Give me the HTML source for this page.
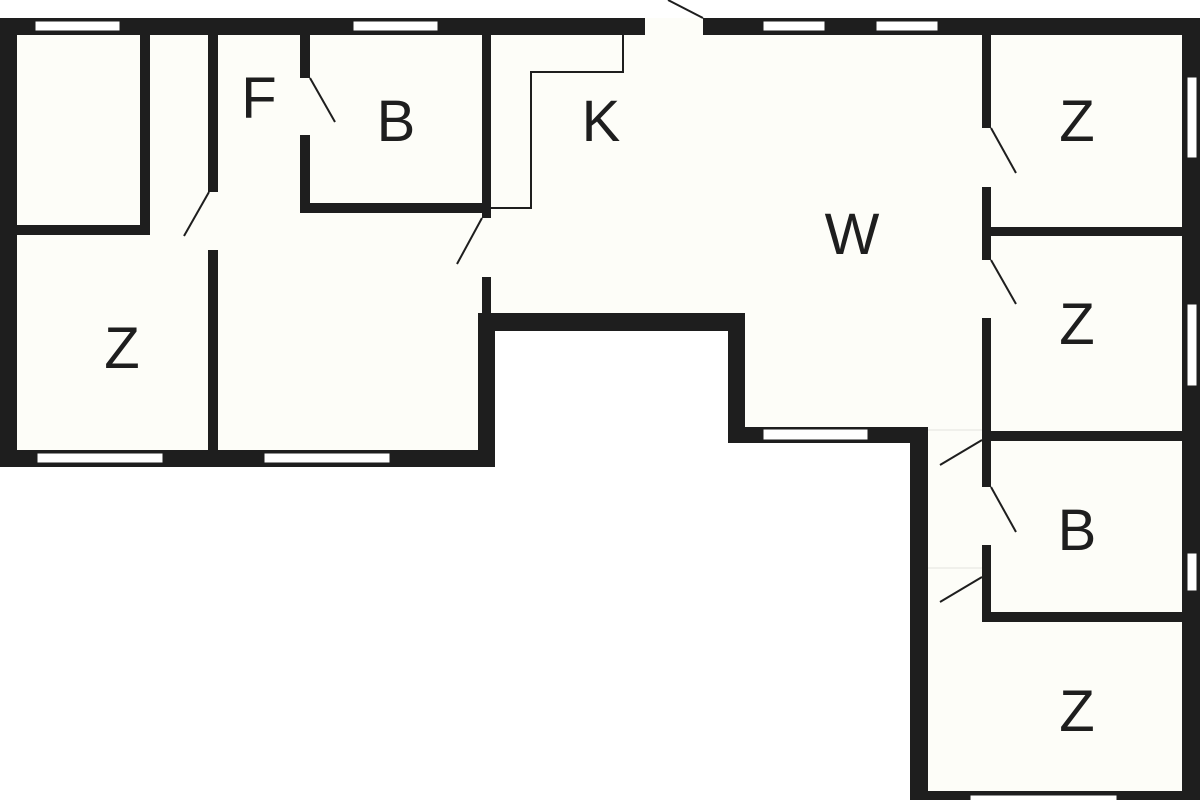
<!DOCTYPE html>
<html><head><meta charset="utf-8"><style>
html,body{margin:0;padding:0;background:#fff;}
svg{display:block}
text{font-family:"Liberation Sans",sans-serif;font-size:58px;fill:#1e1e1e;text-anchor:middle}
</style></head><body>
<svg width="1200" height="800" viewBox="0 0 1200 800" xmlns="http://www.w3.org/2000/svg">
<polygon points="0,18 1200,18 1200,800 910,800 910,427 728,427 728,313 478,313 478,466 0,466" fill="#fdfdf8"/>
<g fill="#1e1e1e">
<rect x="0" y="18" width="645" height="17"/>
<rect x="703" y="18" width="497" height="17"/>
<rect x="0" y="18" width="17" height="449"/>
<rect x="0" y="450" width="495" height="17"/>
<rect x="478" y="313" width="17" height="154"/>
<rect x="478" y="313" width="267" height="18"/>
<rect x="728" y="313" width="17" height="130"/>
<rect x="728" y="427" width="200" height="16"/>
<rect x="910" y="427" width="18" height="373"/>
<rect x="1182" y="18" width="18" height="782"/>
<rect x="910" y="791" width="290" height="9"/>
<rect x="140" y="35" width="10" height="200"/>
<rect x="17" y="225" width="133" height="10"/>
<rect x="208" y="35" width="10" height="157"/>
<rect x="208" y="250" width="10" height="200"/>
<rect x="300" y="35" width="10" height="43"/>
<rect x="300" y="135" width="10" height="78"/>
<rect x="300" y="203" width="191" height="10"/>
<rect x="482" y="35" width="9" height="183"/>
<rect x="482" y="277" width="9" height="38"/>
<rect x="982" y="35" width="9" height="93"/>
<rect x="982" y="187" width="9" height="73"/>
<rect x="982" y="318" width="9" height="169"/>
<rect x="982" y="545" width="9" height="77"/>
<rect x="991" y="227" width="191" height="9"/>
<rect x="982" y="431" width="200" height="10"/>
<rect x="982" y="612" width="200" height="10"/>
</g>
<g fill="#fff" stroke="#1e1e1e" stroke-width="1">
<rect x="35" y="21" width="85" height="10"/>
<rect x="353" y="21" width="85" height="10"/>
<rect x="763" y="21" width="62" height="10"/>
<rect x="876" y="21" width="62" height="10"/>
<rect x="37" y="453" width="126" height="10"/>
<rect x="264" y="453" width="126" height="10"/>
<rect x="763" y="429" width="105" height="11"/>
<rect x="1187" y="77" width="10" height="81"/>
<rect x="1187" y="304" width="10" height="82"/>
<rect x="1187" y="553" width="10" height="38"/>
<rect x="970" y="795" width="147" height="10"/>
</g>
<g stroke="#1e1e1e" stroke-width="2" fill="none">
<polyline points="623,35 623,72 531,72 531,208 491,208"/>
<line x1="703" y1="18" x2="668" y2="0"/>
<line x1="310" y1="78" x2="335" y2="122"/>
<line x1="209" y1="192" x2="184" y2="236"/>
<line x1="482" y1="218" x2="457" y2="264"/>
<line x1="991" y1="128" x2="1016" y2="173"/>
<line x1="991" y1="260" x2="1016" y2="304"/>
<line x1="991" y1="487" x2="1016" y2="532"/>
<line x1="982" y1="440" x2="940" y2="465"/>
<line x1="982" y1="577" x2="940" y2="602"/>
</g>
<g stroke="#e4e4de" stroke-width="1">
<line x1="928" y1="430" x2="982" y2="430"/>
<line x1="928" y1="568" x2="982" y2="568"/>
</g>
<text x="122" y="368">Z</text>
<text x="259" y="118">F</text>
<text x="396" y="141">B</text>
<text x="601" y="141">K</text>
<text x="852" y="254">W</text>
<text x="1077" y="141">Z</text>
<text x="1077" y="344">Z</text>
<text x="1077" y="550">B</text>
<text x="1077" y="731">Z</text>
</svg>
</body></html>
